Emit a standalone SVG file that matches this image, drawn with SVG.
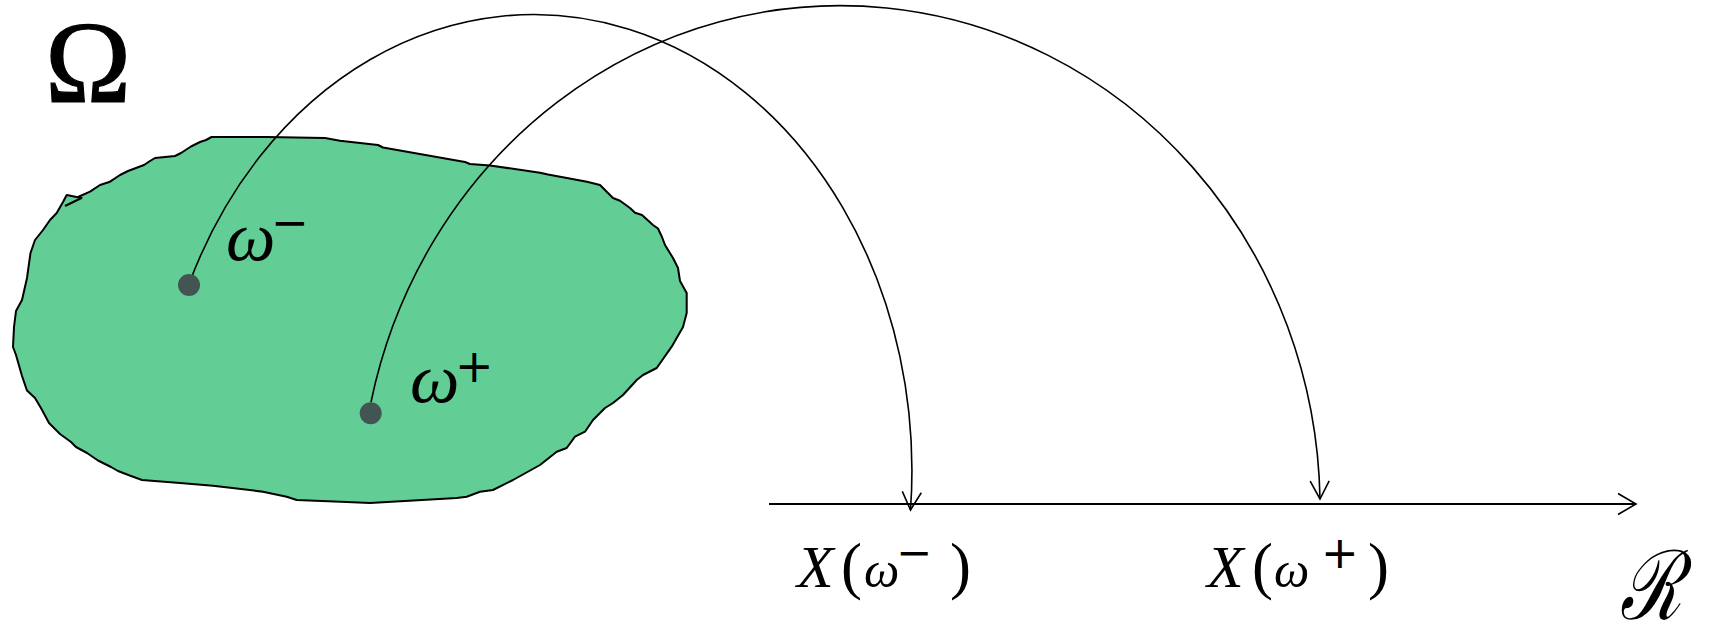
<svg xmlns="http://www.w3.org/2000/svg" width="1711" height="628" viewBox="0 0 1711 628">
<style>
.blob{fill:#62CE95;stroke:#000;stroke-width:2;stroke-linejoin:round}
.arc{fill:none;stroke:#000;stroke-width:1.6}
.axis{fill:none;stroke:#000;stroke-width:2}
.dot{fill:#425553}
.serif{font-family:"Liberation Serif","DejaVu Serif",serif;fill:#000}
.it{font-style:italic}
.up{font-style:normal}
.sup{font-family:"DejaVu Sans","Liberation Sans",sans-serif;font-style:normal;fill:#000}
</style>
<defs>
<marker id="arr" markerUnits="userSpaceOnUse" markerWidth="40" markerHeight="40" viewBox="-22 -20 40 40" refX="0" refY="0" orient="auto">
<path d="M-18,-9.5 L0,0 L-18,9.5" fill="none" stroke="#000" stroke-width="1.6"/>
</marker>
<marker id="arrAx" markerUnits="userSpaceOnUse" markerWidth="40" markerHeight="40" viewBox="-22 -20 40 40" refX="0" refY="0" orient="auto">
<path d="M-18,-10.5 L0,0 L-18,10.5" fill="none" stroke="#000" stroke-width="1.6"/>
</marker>
</defs>
<rect width="1711" height="628" fill="#fff"/>
<text class="serif" x="45" y="102" font-size="116" stroke="#000" stroke-width="1.2">Ω</text>
<g id="region">
<path class="blob" d="M211.5,137 L267,137 L325,138 L340,140.7 L378,145 L383,147.5 L465,162 L470,164 L490,165.5 L540,172.7 L548,174.5 L587,181.7 L600,185 L607,192 L613,198 L620,200.7 L630,208 L635,212.7 L642,215 L653,225 L658,228.5 L662,237 L665,245 L673,258 L678,268 L680,281 L686.7,293 L686.7,313 L683,327 L671.7,346.7 L656.7,368 L643,375 L636.7,380 L623,395 L613,403 L605,408 L593,420 L585,431.7 L575,436.7 L566.7,448 L556.7,451.7 L540,465 L513,480 L493,490 L480,491.7 L466.7,496.7 L456.7,498 L370,503 L346.7,502 L296.7,500 L286.7,496.7 L263,491.7 L213,485.7 L180,483 L142,480 L131,476 L118,471 L111,467 L98,460.5 L87,453 L76,447 L71,442 L60,434 L49,423 L41.5,409 L35,398 L27,390.6 L22,376 L16,355 L13,347 L14,327 L16,311 L22,300 L27,278 L30.5,253 L35,240 L43,230 L50,220 L56.7,213 L63,202 L66.7,195 L81.5,198 L78,197 L90,191.7 L100,185 L110,181.7 L120,175 L128,171 L144,165 L150,161 L155,158 L175,156 L181,153 L191,146.5 L200,142 L206,140 Z"/>
<path d="M81.5,198 L65,206" fill="none" stroke="#000" stroke-width="2"/>
</g>
<g id="connectors">
<path class="arc" d="M189,284 A378,456 0 0 1 910.5,510" marker-end="url(#arr)"/>
<path class="arc" d="M371,402 A480,503 0 0 1 1320,499" marker-end="url(#arr)"/>
<path class="axis" d="M769,504 L1636,504" marker-end="url(#arrAx)"/>
</g>
<g id="omega-minus">
<circle class="dot" cx="189" cy="285" r="11"/>
<text class="serif it" x="226" y="260" font-size="70">ω<tspan class="sup" x="271" y="238" font-size="45">−</tspan></text>
</g>
<g id="omega-plus">
<circle class="dot" cx="370.7" cy="413.3" r="11"/>
<text class="serif it" x="410" y="402" font-size="70">ω<tspan class="sup" x="455" y="382" font-size="46">+</tspan></text>
</g>
<g id="label-minus">
<text class="serif it" x="797" y="587" font-size="60">X<tspan class="up" x="841" font-size="63">(</tspan><tspan x="864" font-size="50">ω</tspan><tspan class="sup" x="896" y="567" font-size="43">−</tspan><tspan class="up" x="950" y="587" font-size="63">)</tspan></text>
</g>
<g id="label-plus">
<text class="serif it" x="1207" y="587" font-size="60">X<tspan class="up" x="1252" font-size="63">(</tspan><tspan x="1274" font-size="50">ω</tspan><tspan class="sup" x="1321" y="568" font-size="45">+</tspan><tspan class="up" x="1368" y="587" font-size="63">)</tspan></text>
</g>
<text class="serif it" font-size="96" transform="translate(1620,619) scale(0.74,1)">ℛ</text>
</svg>
